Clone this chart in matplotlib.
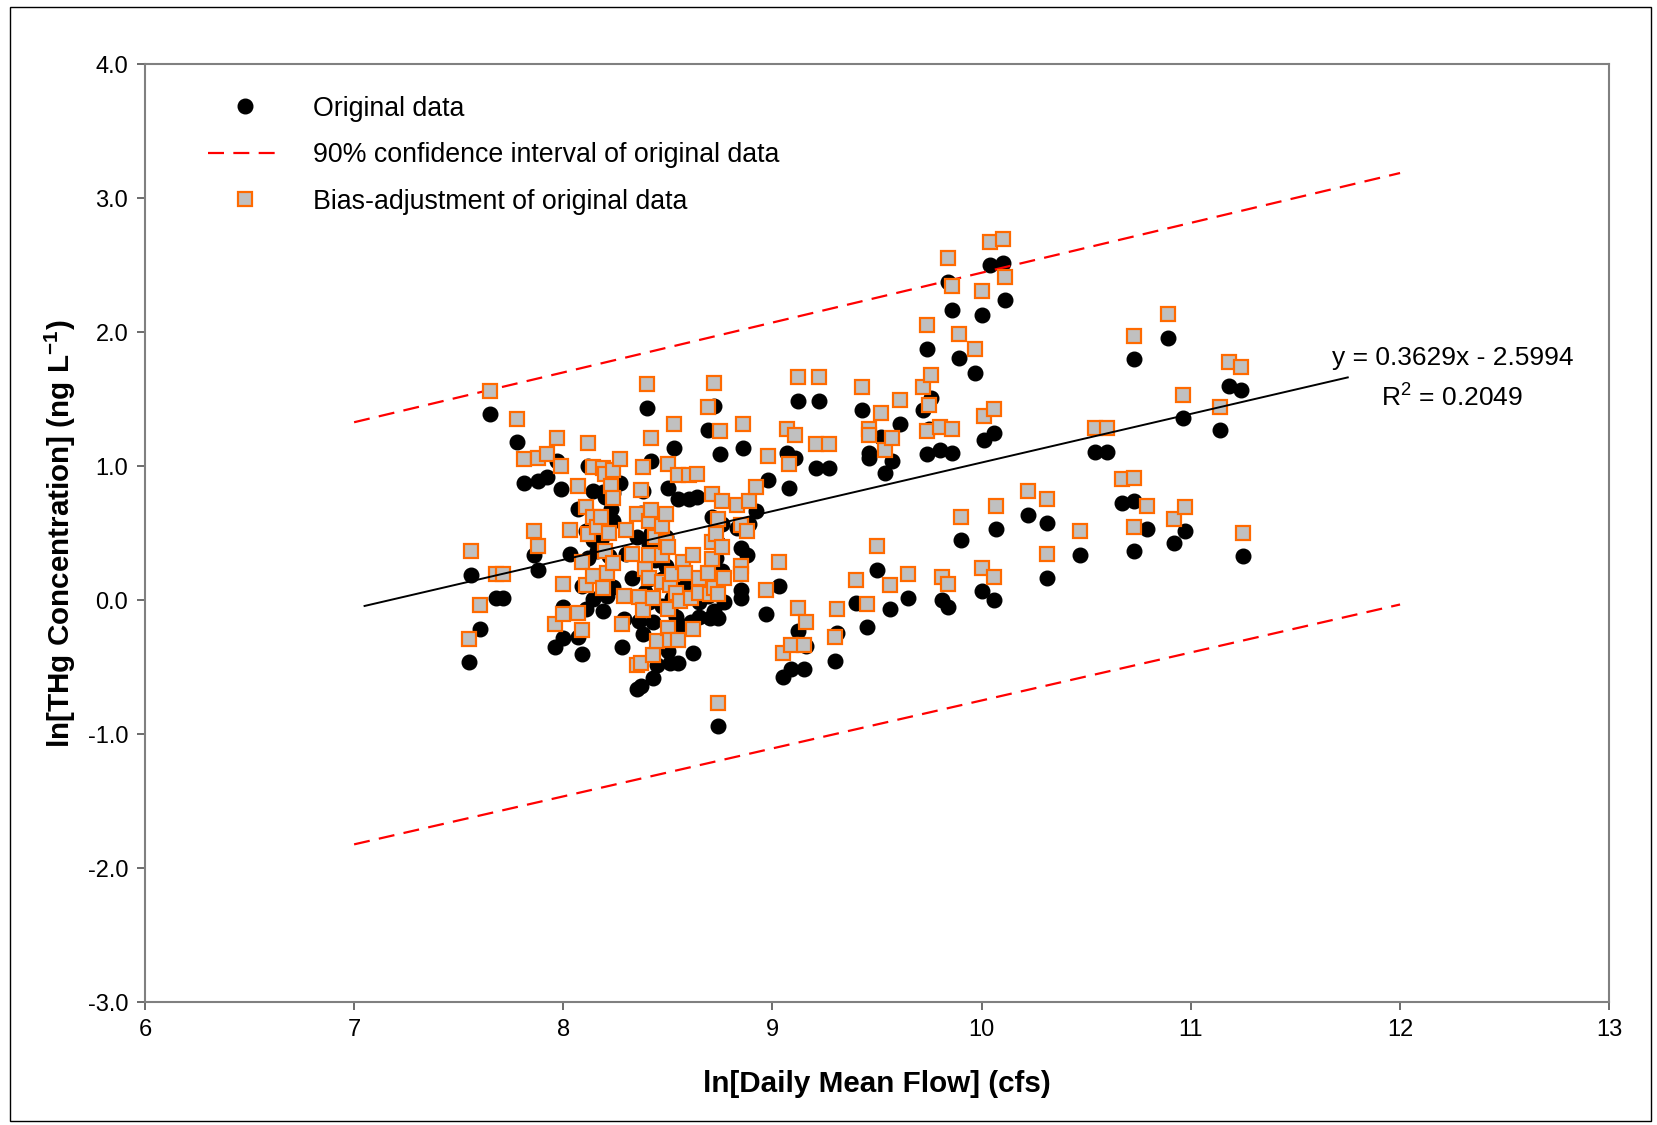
import numpy as np
import matplotlib
matplotlib.use("Agg")
import matplotlib.pyplot as plt
from matplotlib.lines import Line2D
from matplotlib.patches import Rectangle

plt.rcParams['font.family'] = ['Liberation Sans', 'DejaVu Sans']
plt.rcParams['mathtext.fontset'] = 'custom'
plt.rcParams['mathtext.rm'] = 'Liberation Sans'
plt.rcParams['mathtext.bf'] = 'Liberation Sans:bold'

# ln of daily mean flow (cfs) and ln of THg concentration (ng/L)
ln_flow = [
    7.55, 7.56, 7.60, 7.65, 7.68, 7.71, 7.78, 7.81, 7.86, 7.88,
    7.88, 7.92, 7.96, 7.97, 7.99, 8.00, 8.00, 8.03, 8.07, 8.07,
    8.09, 8.09, 8.11, 8.11, 8.12, 8.12, 8.14, 8.14, 8.14, 8.16,
    8.18, 8.19, 8.19, 8.20, 8.20, 8.21, 8.22, 8.23, 8.24, 8.24,
    8.24, 8.27, 8.28, 8.29, 8.30, 8.33, 8.35, 8.37, 8.35, 8.36,
    8.37, 8.38, 8.38, 8.39, 8.40, 8.41, 8.41, 8.41, 8.42, 8.42,
    8.43, 8.43, 8.44, 8.45, 8.47, 8.47, 8.47, 8.49, 8.49, 8.50,
    8.50, 8.50, 8.50, 8.51, 8.51, 8.52, 8.53, 8.54, 8.55, 8.55,
    8.56, 8.57, 8.58, 8.60, 8.61, 8.62, 8.62, 8.64, 8.65, 8.65,
    8.69, 8.69, 8.70, 8.71, 8.71, 8.71, 8.72, 8.72, 8.73, 8.74,
    8.74, 8.74, 8.75, 8.76, 8.76, 8.77, 8.83, 8.85, 8.85, 8.85,
    8.86, 8.88, 8.89, 8.92, 8.97, 8.98, 9.03, 9.05, 9.07, 9.08,
    9.09, 9.11, 9.12, 9.12, 9.15, 9.16, 9.21, 9.22, 9.27, 9.30,
    9.31, 9.40, 9.43, 9.45, 9.46, 9.46, 9.50, 9.52, 9.54, 9.56,
    9.57, 9.61, 9.65, 9.72, 9.74, 9.74, 9.75, 9.76, 9.80, 9.81,
    9.84, 9.84, 9.86, 9.86, 9.89, 9.90, 9.97, 10.00, 10.00, 10.01,
    10.04, 10.06, 10.06, 10.07, 10.10, 10.11, 10.22, 10.31, 10.31, 10.47,
    10.54, 10.60, 10.67, 10.73, 10.73, 10.73, 10.79, 10.89, 10.92, 10.96,
    10.97, 11.14, 11.18, 11.24, 11.25,
]
ln_thg = [
    -0.46, 0.19, -0.21, 1.39, 0.02, 0.02, 1.18, 0.88, 0.34, 0.23,
    0.89, 0.92, -0.35, 1.04, 0.83, -0.05, -0.28, 0.35, -0.27, 0.68,
    -0.40, 0.11, 0.52, -0.06, 1.00, 0.32, 0.82, 0.45, 0.01, 0.37,
    0.45, 0.81, -0.08, 0.77, 0.19, 0.03, 0.33, 0.68, 0.59, 0.80,
    0.10, 0.88, -0.35, -0.14, 0.35, 0.17, -0.66, -0.64, 0.47, -0.15,
    0.65, 0.82, -0.25, 0.06, 1.44, 0.42, 0.16, -0.01, 1.04, 0.50,
    -0.58, -0.16, 0.30, -0.48, 0.38, 0.16, -0.04, 0.47, 0.26, 0.84,
    0.22, -0.24, -0.38, -0.47, -0.06, 0.02, 1.14, -0.12, 0.76, -0.47,
    -0.18, 0.11, 0.03, 0.76, -0.16, 0.16, -0.39, 0.77, -0.01, -0.12,
    1.27, 0.03, -0.13, 0.62, 0.26, 0.13, 1.45, -0.08, 0.32, 0.43,
    -0.13, -0.94, 1.09, 0.57, 0.22, -0.01, 0.54, 0.39, 0.08, 0.02,
    1.14, 0.34, 0.57, 0.67, -0.10, 0.90, 0.11, -0.57, 1.10, 0.84,
    -0.51, 1.06, 1.49, -0.23, -0.51, -0.34, 0.99, 1.49, 0.99, -0.45,
    -0.24, -0.02, 1.42, -0.20, 1.10, 1.06, 0.23, 1.22, 0.95, -0.06,
    1.04, 1.32, 0.02, 1.42, 1.88, 1.09, 1.28, 1.51, 1.12, 0.00,
    2.38, -0.05, 2.17, 1.10, 1.81, 0.45, 1.70, 2.13, 0.07, 1.20,
    2.50, 1.25, 0.00, 0.53, 2.52, 2.24, 0.64, 0.58, 0.17, 0.34,
    1.11, 1.11, 0.73, 0.74, 1.80, 0.37, 0.53, 1.96, 0.43, 1.36,
    0.52, 1.27, 1.60, 1.57, 0.33,
]
# bias adjustment shifts every point up by the same amount in log space
bias_shift = 0.176

# 90% confidence interval end points and trend line
ci_x = [7.0, 12.0]
ci_upper = [1.33, 3.19]
ci_lower = [-1.82, -0.03]
slope, intercept = 0.3629, -2.5994
trend_x = [7.05, 11.75]

x = np.array(ln_flow)
y = np.array(ln_thg)
y_adj = y + bias_shift
tx = np.array(trend_x)

fig = plt.figure(figsize=(16.58, 11.25), dpi=100)
ax = fig.add_axes([0.0874, 0.1089, 0.8832, 0.8338])

orange = '#FF6A00'
red = '#FF0000'
dash = (7.2, 4.2)

ax.plot(x, y, 'o', color='black', markersize=10.5, zorder=2)
ax.plot(ci_x, ci_upper, color=red, lw=1.6, dashes=dash, zorder=3)
ax.plot(ci_x, ci_lower, color=red, lw=1.6, dashes=dash, zorder=3)
ax.plot(x, y_adj, 's', markerfacecolor='#C0C0C0', markeredgecolor=orange,
        markeredgewidth=1.6, markersize=9.5, zorder=4)
ax.plot(tx, slope * tx + intercept, color='black', lw=1.4, zorder=5)

ax.text(12.25, 1.81, 'y = 0.3629x - 2.5994', fontsize=19, ha='center', va='center')
ax.text(12.25, 1.52, 'R$^{2}$ = 0.2049', fontsize=19, ha='center', va='center')

ax.set_xlim(6, 13)
ax.set_ylim(-3, 4)
ax.set_xticks(range(6, 14))
ax.set_yticks(np.arange(-3, 4.01, 1.0))
ax.set_yticklabels([f'{v:.1f}' for v in np.arange(-3, 4.01, 1.0)])
ax.tick_params(direction='out', length=6, width=1.3, color='#606060',
               labelsize=17, pad=6)
for s in ax.spines.values():
    s.set_color('#808080')
    s.set_linewidth(1.5)

ax.set_xlabel('ln[Daily Mean Flow] (cfs)', fontsize=21.3, fontweight='bold', labelpad=21)
ax.set_ylabel('ln[THg Concentration] (ng $\\mathbf{L^{-1}}$)', fontsize=21.3,
              fontweight='bold', labelpad=7)

handles = [
    Line2D([], [], ls='none', marker='o', color='black', markersize=10.5),
    Line2D([], [], color=red, lw=1.6, dashes=dash),
    Line2D([], [], ls='none', marker='s', markerfacecolor='#C0C0C0',
           markeredgecolor=orange, markeredgewidth=1.6, markersize=9.5),
]
labels = ['Original data', '90% confidence interval of original data',
          'Bias-adjustment of original data']
ax.legend(handles, labels, loc='upper left', bbox_to_anchor=(0.0358, 0.978),
          frameon=False, fontsize=19.3, handlelength=2.73, handletextpad=1.17,
          labelspacing=0.76, borderaxespad=0)

fig.patches.append(Rectangle((0.006, 0.004), 0.9897, 0.990, transform=fig.transFigure,
                             fill=False, edgecolor='black', lw=1.0))

fig.savefig('out.png', dpi=100)
